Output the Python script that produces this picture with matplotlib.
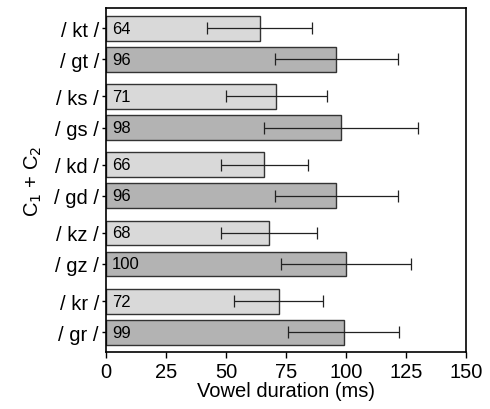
#### Workspace setup ####
import matplotlib
matplotlib.use('Agg')
import matplotlib.pyplot as plt

#### Data ####
clusters = ['kt', 'gt', 'ks', 'gs', 'kd', 'gd', 'kz', 'gz', 'kr', 'gr']
durations = [64, 96, 71, 98, 66, 96, 68, 100, 72, 99]
errors = [22, 25.5, 21, 32, 18, 25.5, 20, 27, 18.5, 23]
value_labels = ['64', '96', '71', '98', '66', '96', '68', '100', '72', '99']
x_ticks = [0, 25, 50, 75, 100, 125, 150]

#### Plot ####
plt.rcParams['font.family'] = ['Liberation Sans', 'DejaVu Sans']

fig = plt.figure(figsize=(4.9, 4.1), dpi=100)
ax = fig.add_axes([0.216, 0.139, 0.735, 0.838])

# pairs of bars (k / g) with a small gap between pairs
positions = []
for i in range(len(clusters)):
    pair = i // 2
    positions.append(9.8 - pair * 2.2 - (i % 2))

colors = ['#d9d9d9' if c.startswith('k') else '#b3b3b3' for c in clusters]

ax.barh(positions, durations, height=0.8, color=colors,
        edgecolor='#333333', linewidth=1.0, zorder=2)
ax.errorbar(durations, positions, xerr=errors, fmt='none',
            ecolor='#222222', elinewidth=0.9, capsize=4.5, capthick=0.9, zorder=3)

for pos, lab in zip(positions, value_labels):
    ax.text(2.5, pos, lab, ha='left', va='center', fontsize=12, zorder=4)

ax.set_yticks(positions)
ax.set_yticklabels([f'/ {c} /' for c in clusters], fontsize=14.5)
ax.set_xticks(x_ticks)
ax.set_xticklabels([str(t) for t in x_ticks], fontsize=14.5)
ax.set_xlim(0, 150)
ax.set_ylim(-0.64, 9.8 + 0.64)

ax.tick_params(axis='x', direction='out', length=4.5, width=1, pad=3)
ax.tick_params(axis='y', direction='out', length=3, width=1, pad=2)
for s in ax.spines.values():
    s.set_linewidth(1.2)

ax.set_xlabel('Vowel duration (ms)', fontsize=14.5, labelpad=0)
ax.set_ylabel('C$_1$ + C$_2$', fontsize=14.5, labelpad=7)

plt.savefig('out.png', dpi=100)
